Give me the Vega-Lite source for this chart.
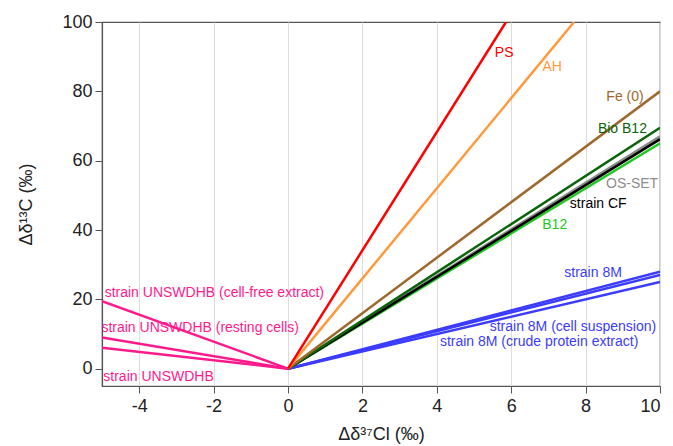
{
  "$schema": "https://vega.github.io/schema/vega-lite/v6.json",
  "width": 558,
  "height": 364,
  "autosize": {"type": "none"},
  "padding": {"left": 102, "top": 22, "right": 13, "bottom": 60},
  "background": "white",
  "config": {
    "font": "Liberation Sans",
    "view": {"stroke": "#555", "strokeWidth": 1.2},
    "axis": {
      "labelFont": "Liberation Sans",
      "titleFont": "Liberation Sans",
      "labelFontSize": 18,
      "titleFontSize": 18,
      "titleFontWeight": "normal",
      "labelColor": "#222",
      "titleColor": "#222",
      "domainColor": "#555",
      "domainWidth": 1.2,
      "tickColor": "#555",
      "tickSize": 7,
      "gridColor": "#dcdcdc",
      "gridWidth": 1
    }
  },
  "datasets": {
    "lines": [
      {"series": "strain UNSWDHB (cell-free extract)", "x": -5, "y": 19.5},
      {"series": "strain UNSWDHB (cell-free extract)", "x": 0, "y": 0},
      {"series": "strain UNSWDHB (resting cells)", "x": -5, "y": 9},
      {"series": "strain UNSWDHB (resting cells)", "x": 0, "y": 0},
      {"series": "strain UNSWDHB", "x": -5, "y": 6},
      {"series": "strain UNSWDHB", "x": 0, "y": 0},
      {"series": "strain 8M", "x": 0, "y": 0},
      {"series": "strain 8M", "x": 10, "y": 28},
      {"series": "strain 8M (cell suspension)", "x": 0, "y": 0},
      {"series": "strain 8M (cell suspension)", "x": 10, "y": 27},
      {"series": "strain 8M (crude protein extract)", "x": 0, "y": 0},
      {"series": "strain 8M (crude protein extract)", "x": 10, "y": 25},
      {"series": "B12", "x": 0, "y": 0},
      {"series": "B12", "x": 10, "y": 65},
      {"series": "OS-SET", "x": 0, "y": 0},
      {"series": "OS-SET", "x": 10, "y": 67},
      {"series": "strain CF", "x": 0, "y": 0},
      {"series": "strain CF", "x": 10, "y": 66.2},
      {"series": "Bio B12", "x": 0, "y": 0},
      {"series": "Bio B12", "x": 10, "y": 69.5},
      {"series": "Fe (0)", "x": 0, "y": 0},
      {"series": "Fe (0)", "x": 10, "y": 80},
      {"series": "AH", "x": 0, "y": 0},
      {"series": "AH", "x": 7.69, "y": 100},
      {"series": "PS", "x": 0, "y": 0},
      {"series": "PS", "x": 5.86, "y": 100}
    ],
    "labels": [
      {"series": "PS", "x": 5.81, "y": 91},
      {"series": "AH", "x": 7.1, "y": 86.9},
      {"series": "Fe (0)", "x": 9.06, "y": 78.4},
      {"series": "Bio B12", "x": 8.99, "y": 69.1},
      {"series": "OS-SET", "x": 9.25, "y": 53.4},
      {"series": "strain CF", "x": 8.34, "y": 47.4},
      {"series": "B12", "x": 7.17, "y": 41.3},
      {"series": "strain 8M", "x": 8.2, "y": 27.7},
      {"series": "strain 8M (cell suspension)", "x": 7.66, "y": 12.1},
      {"series": "strain 8M (crude protein extract)", "x": 6.75, "y": 7.7},
      {"series": "strain UNSWDHB (cell-free extract)", "x": -1.98, "y": 21.9},
      {"series": "strain UNSWDHB (resting cells)", "x": -2.36, "y": 11.6},
      {"series": "strain UNSWDHB", "x": -3.48, "y": -2.4}
    ]
  },
  "layer": [
    {
      "mark": {"type": "rule", "color": "#999", "strokeDash": [2, 3], "strokeWidth": 1.5},
      "encoding": {
        "y": {"datum": 0, "type": "quantitative", "scale": {"domain": [-5, 100], "nice": false}}
      }
    },
    {
      "data": {"name": "lines"},
      "mark": {"type": "line", "strokeWidth": 2.5, "clip": true},
      "encoding": {
        "x": {
          "field": "x", "type": "quantitative",
          "scale": {"domain": [-5, 10], "nice": false},
          "axis": {"values": [-4, -2, 0, 2, 4, 6, 8, 10], "title": "Δδ³⁷Cl (‰)", "titlePadding": 10, "labelPadding": 4, "labelExpr": "replace(datum.label, '−', '-')"}
        },
        "y": {
          "field": "y", "type": "quantitative",
          "scale": {"domain": [-5, 100], "nice": false},
          "axis": {"values": [0, 20, 40, 60, 80, 100], "title": "Δδ¹³C (‰)", "titlePadding": 26, "labelPadding": 3}
        },
        "color": {
          "field": "series", "type": "nominal", "legend": null,
          "scale": {
            "domain": ["PS", "AH", "Fe (0)", "Bio B12", "OS-SET", "strain CF", "B12", "strain 8M", "strain 8M (cell suspension)", "strain 8M (crude protein extract)", "strain UNSWDHB (cell-free extract)", "strain UNSWDHB (resting cells)", "strain UNSWDHB"],
            "range": ["#ff0000", "#ff9a3c", "#a0682d", "#0a640a", "#8c8c8c", "#000000", "#22c822", "#3c3cff", "#3c3cff", "#3c3cff", "#ff1a8c", "#ff1a8c", "#ff1a8c"]
          }
        },
        "detail": {"field": "series"}
      }
    },
    {
      "data": {"name": "labels"},
      "mark": {"type": "text", "font": "Liberation Sans", "fontSize": 14, "align": "center", "baseline": "middle"},
      "encoding": {
        "x": {"field": "x", "type": "quantitative"},
        "y": {"field": "y", "type": "quantitative"},
        "text": {"field": "series"},
        "color": {"field": "series", "type": "nominal", "legend": null}
      }
    }
  ]
}
